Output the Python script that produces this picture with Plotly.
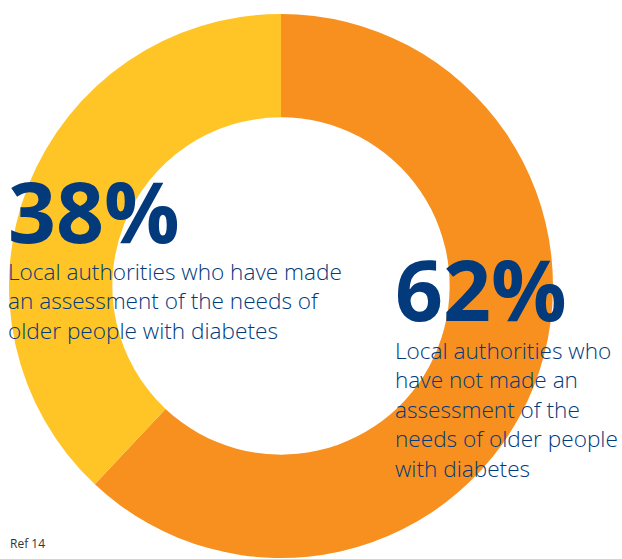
import plotly.graph_objects as go

labels = ["Have not made an assessment", "Have made an assessment"]
values = [62, 38]
colors = ["#F7901E", "#FFC425"]
pct_labels = ["62%", "38%"]
descriptions = [
    "Local authorities who<br>have not made an<br>assessment of the<br>needs of older people<br>with diabetes",
    "Local authorities who have made<br>an assessment of the needs of<br>older people with diabetes",
]
footnote = "Ref 14"

W, H = 622, 559
NAVY = "#023A7C"

def py(p):
    return 1 - p / H

def px(p):
    return p / W

fig = go.Figure(go.Pie(
    labels=labels,
    values=values,
    hole=0.62,
    sort=False,
    direction="clockwise",
    rotation=0,
    marker=dict(colors=colors, line=dict(width=0)),
    textinfo="none",
    hoverinfo="label+percent",
    showlegend=False,
    domain=dict(x=[px(9), px(553)], y=[py(558), py(14)]),
))

font_big = "Open Sans"
font_txt = "Open Sans"

anns = [
    dict(text="<b>%s</b>" % pct_labels[1], x=px(6), y=py(210), xanchor="left", yanchor="middle",
         font=dict(size=84, color=NAVY, family=font_big)),
    dict(text=descriptions[1], x=px(6), y=py(301), xanchor="left", yanchor="middle", align="left",
         font=dict(size=22.6, color=NAVY, family=font_txt, weight=300)),
    dict(text="<b>%s</b>" % pct_labels[0], x=px(393), y=py(289), xanchor="left", yanchor="middle",
         font=dict(size=84, color=NAVY, family=font_big)),
    dict(text=descriptions[0], x=px(393), y=py(409), xanchor="left", yanchor="middle", align="left",
         font=dict(size=22.6, color=NAVY, family=font_txt, weight=300)),
    dict(text=footnote, x=px(8), y=py(543), xanchor="left", yanchor="middle",
         font=dict(size=12, color="#333333", family=font_txt)),
]
for a in anns:
    a.update(xref="paper", yref="paper", showarrow=False)

fig.update_layout(
    width=W, height=H,
    margin=dict(l=0, r=0, t=0, b=0),
    paper_bgcolor="white",
    plot_bgcolor="white",
    annotations=anns,
)

fig.write_html("out.html")
